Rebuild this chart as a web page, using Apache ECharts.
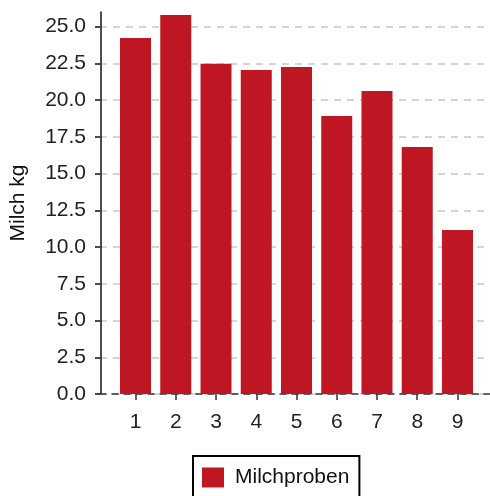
<!DOCTYPE html>
<html><head><meta charset="utf-8">
<script src="https://cdn.jsdelivr.net/npm/echarts@6/dist/echarts.min.js"></script>
<style>html,body{margin:0;padding:0;background:#fff}#c{width:490px;height:496px}</style>
</head><body><div id="c"></div>
<script>
const categories = ['1','2','3','4','5','6','7','8','9'];
const milchproben = [24.23, 25.80, 22.48, 22.05, 22.26, 18.92, 20.62, 16.81, 11.16];
const yAxisMax = 26;
const yTicks = {min: 0, max: 25, interval: 2.5};
const seriesName = 'Milchproben';
const yName = 'Milch kg';

const font = 'Liberation Sans, Arial, sans-serif';
const plotTop = 12, plotBottom = 102, plotH = 496 - plotTop - plotBottom;
const tickTop = plotTop + plotH * (yAxisMax - yTicks.max) / yAxisMax;
const chart = echarts.init(document.getElementById('c'), null, {renderer: 'canvas'});
chart.setOption({
  animation: false,
  grid: [
    {left: 115.4, right: 12.4, top: plotTop, bottom: plotBottom},
    {left: 100, right: 0, top: tickTop, bottom: plotBottom},
    {left: 100, right: 0, top: plotTop, bottom: plotBottom}
  ],
  legend: {
    data: [seriesName], top: 456, left: 193, icon: 'rect',
    itemWidth: 22, itemHeight: 20, itemGap: 10,
    padding: [11, 10, 14, 9],
    borderColor: '#000', borderWidth: 2, borderRadius: 0,
    textStyle: {fontFamily: font, fontSize: 21, color: '#111', padding: [0, 0, 0, 6]}
  },
  xAxis: [
    {type: 'category', gridIndex: 0, data: categories,
     axisLine: {show: false},
     axisTick: {show: true, alignWithLabel: true, length: 6, lineStyle: {color: '#333', width: 1.5}},
     axisLabel: {fontFamily: font, fontSize: 21, color: '#222', margin: 18},
     splitLine: {show: false}},
    {type: 'value', gridIndex: 1, min: 0, max: 1,
     axisLine: {show: true, onZero: false, lineStyle: {color: '#333', width: 1.5, type: [6, 6]}},
     axisTick: {show: false}, axisLabel: {show: false}, splitLine: {show: false}},
    {type: 'value', gridIndex: 2, min: 0, max: 1, show: false}
  ],
  yAxis: [
    {type: 'value', gridIndex: 0, min: 0, max: yAxisMax, show: false, splitLine: {show: false}},
    {type: 'value', gridIndex: 1, min: yTicks.min, max: yTicks.max, interval: yTicks.interval,
     axisLine: {show: false},
     axisTick: {show: true, length: 5, lineStyle: {color: '#111', width: 1.5}},
     axisLabel: {fontFamily: font, fontSize: 21, color: '#222', margin: 14,
       formatter: v => v.toFixed(1)},
     splitLine: {show: true, lineStyle: {color: '#c8c8c8', width: 1.5, type: [7, 6]}}},
    {type: 'value', gridIndex: 2, min: 0, max: yAxisMax,
     name: yName, nameLocation: 'middle', nameGap: 72, nameRotate: 90,
     nameTextStyle: {fontFamily: font, fontSize: 21, color: '#111'},
     axisLine: {show: true, lineStyle: {color: '#111', width: 1.5}},
     axisTick: {show: false}, axisLabel: {show: false}, splitLine: {show: false}}
  ],
  series: [
    {name: seriesName, type: 'bar', xAxisIndex: 0, yAxisIndex: 0, data: milchproben,
     barWidth: 31, itemStyle: {color: '#BE1622'}}
  ]
});
</script></body></html>
